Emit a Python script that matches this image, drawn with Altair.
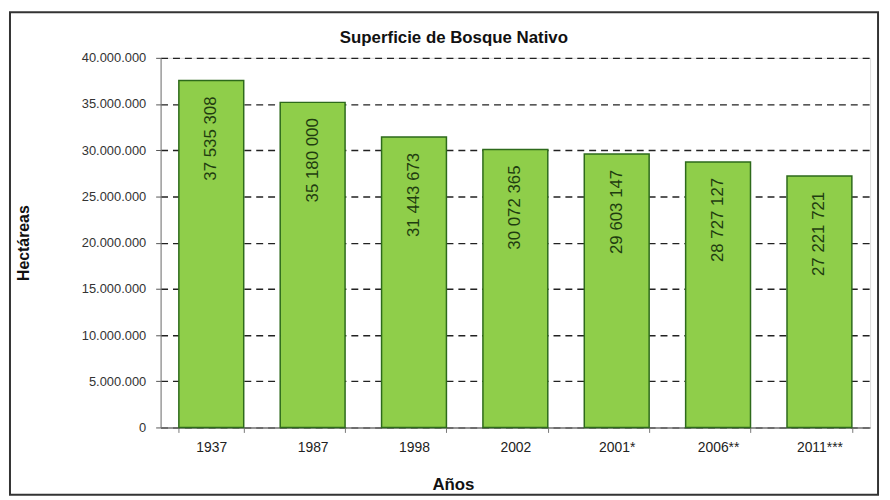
import altair as alt
import pandas as pd

years = ["1937", "1987", "1998", "2002", "2001*", "2006**", "2011***"]
values = [37535308, 35180000, 31443673, 30072365, 29603147, 28727127, 27221721]
title_text = ["Superficie de Bosque Nativo"]

def fmt(v):
    return f"{v:,}".replace(",", " ")

df = pd.DataFrame({"year": years, "value": values, "label": [fmt(v) for v in values]})
one_df = pd.DataFrame({"t": title_text})

W, H = 716, 373

base = alt.Chart(df)

bars = base.mark_bar(
    fill="#8fce4a", stroke="#2d6a1b", strokeWidth=1.5
).encode(
    x=alt.X(
        "year:N", sort=years,
        scale=alt.Scale(paddingInner=0.36, paddingOuter=0.18),
        axis=alt.Axis(
            title="Años", titleFont="Liberation Sans", titleFontSize=17,
            titleFontWeight="bold", titleColor="#111",
            titleX=295, titleY=58, titleAnchor="middle", titleBaseline="middle",
            labelAngle=0, labelFont="Liberation Sans", labelFontSize=14,
            labelColor="#222", labelPadding=8,
            tickBand="extent", tickSize=5, tickColor="#777",
            domainColor="#777", domainWidth=1.5, grid=False,
        ),
    ),
    y=alt.Y(
        "value:Q",
        scale=alt.Scale(domain=[0, 40000000], nice=False),
        axis=alt.Axis(
            title="Hectáreas", titleFont="Liberation Sans", titleFontSize=16,
            titleFontWeight="bold", titleColor="#111",
            titleX=-138, titleY=H / 2, titleAngle=270, titleAlign="center",
            titleBaseline="middle",
            values=list(range(0, 40000001, 5000000)),
            labelExpr="replace(format(datum.value, ','), /,/g, '.')",
            labelFont="Liberation Sans", labelFontSize=13, labelColor="#333",
            labelPadding=10, tickSize=5, tickColor="#555",
            domainColor="#777", domainWidth=1,
            grid=True, gridColor="#222", gridDash=[7, 5], gridWidth=1.4,
        ),
    ),
)

labels = base.mark_text(
    angle=270, align="right", baseline="middle", yOffset=16,
    font="Liberation Sans", fontSize=17, color="#1f3d10"
).encode(
    x=alt.X("year:N", sort=years),
    y="value:Q",
    text="label:N",
)

title = alt.Chart(one_df).mark_text(
    font="Liberation Sans", fontSize=17, fontWeight="bold", color="#111",
    align="center", baseline="middle"
).encode(
    x=alt.value(296), y=alt.value(-20), text="t:N"
)

frame = alt.Chart(one_df).mark_rect(
    fill=None, stroke="#333", strokeWidth=2
).encode(
    x=alt.value(-152), x2=alt.value(W + 8),
    y=alt.value(-46), y2=alt.value(H + 68),
)

chart = alt.layer(bars, labels, title, frame).properties(
    width=W, height=H,
    autosize=alt.AutoSizeParams(type="none"),
    padding={"left": 154, "top": 48, "right": 12, "bottom": 80},
).configure_view(stroke=None).configure(background="white")

chart.save("out.html", embed_options={"renderer": "svg", "actions": False})
